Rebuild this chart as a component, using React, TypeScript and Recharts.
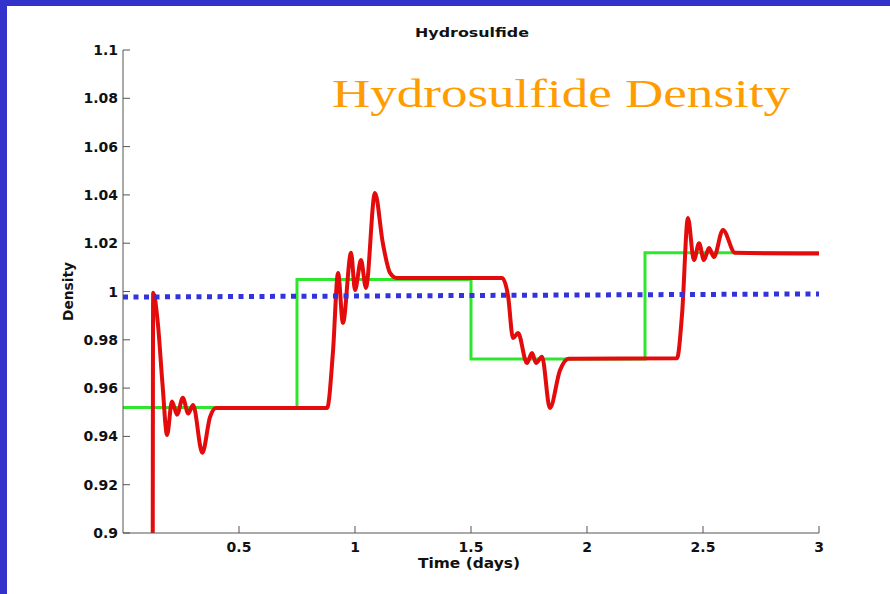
import React from 'react';
import { LineChart, Line, XAxis, YAxis } from 'recharts';

// red: modelled density (days, value)
const redTimes = [
  0.128, 0.13, 0.15, 0.17, 0.19, 0.211, 0.233, 0.258, 0.281, 0.302, 0.342, 0.375, 0.4,
  0.88, 0.905, 0.927, 0.948, 0.983, 1.0, 1.026, 1.047, 1.086, 1.12, 1.151, 1.18,
  1.634, 1.66, 1.681, 1.703, 1.741, 1.763, 1.78, 1.806, 1.84, 1.884, 1.92,
  2.388, 2.41, 2.435, 2.461, 2.483, 2.504, 2.526, 2.547, 2.586, 2.638, 3.0,
];
const redValues = [
  0.88, 0.9995, 0.987, 0.962, 0.9406, 0.9545, 0.949, 0.956, 0.9495, 0.953, 0.9332, 0.948, 0.9518,
  0.9518, 0.975, 1.0077, 0.987, 1.016, 1.0006, 1.013, 1.0015, 1.0408, 1.02, 1.0077, 1.0056,
  1.0056, 0.998, 0.9807, 0.9828, 0.9704, 0.9745, 0.9704, 0.973, 0.9518, 0.9675, 0.9722,
  0.9724, 0.991, 1.0304, 1.013, 1.02, 1.013, 1.018, 1.0143, 1.0255, 1.016, 1.0157,
];

// green: step input
const greenTimes = [0, 0.75, 1.5, 2.25, 3];
const greenValues = [0.952, 1.005, 0.972, 1.016, 1.016];

// blue: reference density
const blueTimes = [0, 3];
const blueValues = [0.9977, 0.999];

const xTicks = [0.5, 1, 1.5, 2, 2.5, 3];
const yTicks = [0.9, 0.92, 0.94, 0.96, 0.98, 1, 1.02, 1.04, 1.06, 1.08, 1.1];

const toPoints = (times: number[], values: number[]) =>
  times.map((t, i) => ({ t, v: values[i] }));

const redData = toPoints(redTimes, redValues);
const greenData = toPoints(greenTimes, greenValues);
const blueData = toPoints(blueTimes, blueValues);

const axisColor = '#555';
const labelFont = '"DejaVu Sans", Arial, sans-serif';
const fmt = (v: number) => String(Number(v.toFixed(2)));

const LeftTick = ({ x, y, payload }: any) => (
  <g>
    <line x1={x + 5} y1={y} x2={x + 12} y2={y} stroke={axisColor} />
    <text x={x} y={y} dy={5} textAnchor="end" fontFamily={labelFont} fontWeight="bold" fontSize={14} fill="#111">
      {fmt(payload.value)}
    </text>
  </g>
);

const BottomTick = ({ x, y, payload }: any) => (
  <g>
    <line x1={x} y1={y - 9} x2={x} y2={y - 16} stroke={axisColor} />
    <text x={x} y={y} dy={10} textAnchor="middle" fontFamily={labelFont} fontWeight="bold" fontSize={14} fill="#111">
      {fmt(payload.value)}
    </text>
  </g>
);

const TopTick = ({ x, y }: any) => <line x1={x} y1={y} x2={x} y2={y + 7} stroke={axisColor} />;
const RightTick = ({ x, y }: any) => <line x1={x} y1={y} x2={x - 7} y2={y} stroke={axisColor} />;

export default function App() {
  return (
    <div
      style={{
        position: 'absolute',
        left: 0,
        top: 0,
        width: 890,
        height: 594,
        background: '#fff',
        borderLeft: '7px solid #3333cc',
        borderTop: '6px solid #3333cc',
        boxSizing: 'border-box',
        overflow: 'hidden',
      }}
    >
      <div style={{ position: 'absolute', left: -7, top: -6 }}>
        <LineChart width={890} height={594} margin={{ top: 50, right: 71, bottom: 31, left: 63 }}>
          <XAxis
            xAxisId="b"
            type="number"
            dataKey="t"
            domain={[0, 3]}
            ticks={xTicks}
            interval={0}
            allowDataOverflow
            height={30}
            tickSize={0}
            tickMargin={9}
            tick={<BottomTick />}
            axisLine={{ stroke: axisColor }}
          />
          <XAxis
            xAxisId="t"
            orientation="top"
            type="number"
            dataKey="t"
            domain={[0, 3]}
            ticks={xTicks}
            interval={0}
            allowDataOverflow
            height={0}
            tickSize={0}
            tickMargin={0}
            tick={<TopTick />}
            axisLine={{ stroke: axisColor }}
          />
          <YAxis
            yAxisId="l"
            type="number"
            domain={[0.9, 1.1]}
            ticks={yTicks}
            interval={0}
            allowDataOverflow
            width={60}
            tickSize={0}
            tickMargin={5}
            tick={<LeftTick />}
            axisLine={{ stroke: axisColor }}
          />
          <YAxis
            yAxisId="r"
            orientation="right"
            type="number"
            domain={[0.9, 1.1]}
            ticks={yTicks}
            interval={0}
            allowDataOverflow
            width={0}
            tickSize={0}
            tickMargin={0}
            tick={<RightTick />}
            axisLine={{ stroke: axisColor }}
          />
          <Line
            xAxisId="b"
            yAxisId="l"
            data={greenData}
            dataKey="v"
            type="stepAfter"
            stroke="#2ee62e"
            strokeWidth={3}
            dot={false}
            isAnimationActive={false}
          />
          <Line
            xAxisId="b"
            yAxisId="l"
            data={redData}
            dataKey="v"
            type="monotone"
            stroke="#e30b0b"
            strokeWidth={4}
            dot={false}
            isAnimationActive={false}
          />
          <Line
            xAxisId="t"
            yAxisId="r"
            data={blueData}
            dataKey="v"
            type="linear"
            stroke="#3333dd"
            strokeWidth={5}
            strokeDasharray="5 5.5"
            dot={false}
            isAnimationActive={false}
          />
        </LineChart>
      </div>
      <svg
        width={890}
        height={594}
        style={{ position: 'absolute', left: -7, top: -6, pointerEvents: 'none' }}
      >
        <text x={472} y={37} textAnchor="middle" fontFamily={labelFont} fontWeight="bold" fontSize={13} textLength={114} lengthAdjust="spacingAndGlyphs" fill="#111">
          Hydrosulfide
        </text>
        <text x={469} y={568} textAnchor="middle" fontFamily={labelFont} fontWeight="bold" fontSize={14} textLength={102} lengthAdjust="spacingAndGlyphs" fill="#111">
          Time (days)
        </text>
        <text transform="translate(73, 291.5) rotate(-90)" textAnchor="middle" fontFamily={labelFont} fontWeight="bold" fontSize={14} textLength={59} lengthAdjust="spacingAndGlyphs" fill="#111">
          Density
        </text>
        <text x={332} y={107} fontFamily='"Liberation Serif", "Times New Roman", serif' fontSize={41} textLength={458} lengthAdjust="spacingAndGlyphs" fill="#ff9c00">
          Hydrosulfide Density
        </text>
      </svg>
    </div>
  );
}
